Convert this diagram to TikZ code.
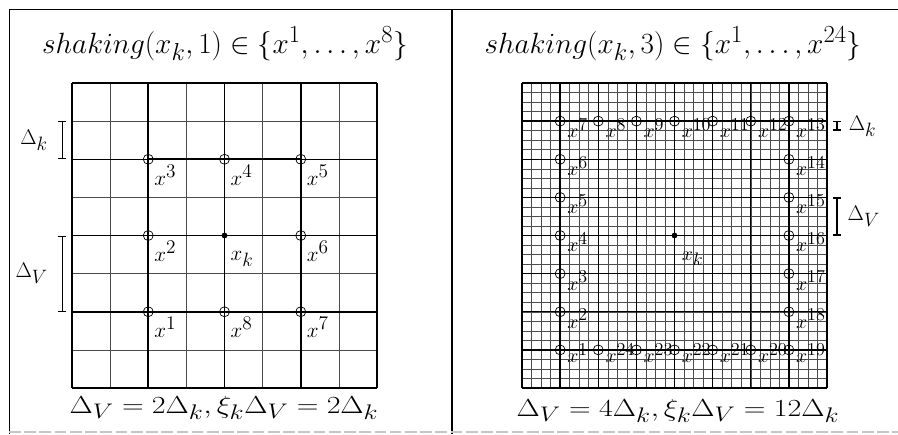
\RequirePackage{fix-cm}
\documentclass[tikz,border=0pt]{standalone}
\usepackage{amssymb}
\usepackage{amsmath}
\usepackage{tikz}
\usetikzlibrary{positioning,arrows.meta}
\DeclareMathSizes{17}{17}{15.5}{12}
\DeclareMathSizes{18}{18}{16.5}{12}
\DeclareMathSizes{21}{21}{18}{13}
\DeclareMathSizes{25}{25}{21}{16}
\newcommand{\widetext}[1]{\scalebox{1.22}[1]{#1}}
\tikzset{
    point/.style={circle, draw, minimum size=8.5pt, inner sep=0pt, line width=0.6pt},
    center point/.style={circle, fill, minimum size=5pt, inner sep=0pt},
    point label/.style={anchor=base west, inner sep=0pt, font=\fontsize{18}{20}\selectfont},
    small label/.style={anchor=base west, inner sep=0pt, font=\fontsize{17}{19}\selectfont},
    delta label/.style={inner sep=0pt, font=\fontsize{18}{20}\selectfont},
    title/.style={anchor=base, inner sep=0pt, font=\fontsize{25}{30}\selectfont},
    formula/.style={anchor=base, inner sep=0pt, font=\fontsize{21}{25}\selectfont},
    thin grid/.style={line width=0.5pt, black!70},
    thick grid/.style={line width=1.3pt},
    square/.style={line width=1.9pt},
    bracket/.style={line width=1pt, {Bar[width=7pt]}-{Bar[width=7pt]}}
}

\begin{document}
\begin{tikzpicture}[x=0.03cm, y=-0.03cm]
    \useasboundingbox (0,0) rectangle (898,434);

    % Πλαίσιο
    \draw[line width=0.6pt] (9,434) -- (9,9) -- (898,9);
    \draw[line width=1.5pt] (452,9) -- (452,434);
    \draw[gray!45, line width=1pt, dash pattern=on 10pt off 3pt] (9,432) -- (898,432);

    % Τίτλοι
    \node[title] (t1) at (225,53) {$shaking(x_k,1)\in\{x^1,\ldots,x^8\}$};
    \node[title] (t2) at (673,53) {$shaking(x_k,3)\in\{x^1,\ldots,x^{24}\}$};

    % Αριστερό πλέγμα
    \begin{scope}[shift={(72,83)}, x=1.14375cm, y=-1.14375cm]
        \foreach \i in {0,...,8} {
            \draw[thin grid] (\i,0) -- (\i,8);
            \draw[thin grid] (0,\i) -- (8,\i);
        }
        \foreach \i in {0,2,...,8} {
            \draw[thick grid] (\i,0) -- (\i,8);
            \draw[thick grid] (0,\i) -- (8,\i);
        }
        \foreach \n/\cx/\cy in {1/2/6, 2/2/4, 3/2/2, 4/4/2, 5/6/2, 6/6/4, 7/6/6, 8/4/6} {
            \node[point] (a\n) at (\cx,\cy) {};
            \node[point label] (la\n) at ([xshift=5pt, yshift=-22pt]a\n.center) {$x^{\n}$};
        }
        \draw[square] (a1.center) -- (a3.center) -- (a5.center) -- (a7.center) -- cycle;
        \node[center point] (ak) at (4,4) {};
        \node[point label] (lak) at ([xshift=5pt, yshift=-21pt]ak.center) {$x_k$};

        % Δ_k και Δ_V
        \coordinate (dk1) at (-0.26,1);
        \coordinate (dk2) at (-0.26,2);
        \coordinate (dkm) at (-0.26,1.5);
        \draw[bracket] (dk1) -- (dk2);
        \node[delta label, left=12pt of dkm] (ldk) {$\Delta_k$};
        \coordinate (dv1) at (-0.26,4);
        \coordinate (dv2) at (-0.26,6);
        \coordinate (dvm) at (-0.26,5);
        \draw[bracket] (dv1) -- (dv2);
        \node[delta label, left=12pt of dvm] (ldv) {$\Delta_V$};
    \end{scope}

    % Δεξί πλέγμα
    \begin{scope}[shift={(522,83)}, x=1.14375cm, y=-1.14375cm]
        \foreach \i in {0,0.25,...,8} {
            \draw[thin grid, line width=0.45pt] (\i,0) -- (\i,8);
            \draw[thin grid, line width=0.45pt] (0,\i) -- (8,\i);
        }
        \foreach \i in {0,...,8} {
            \draw[thick grid, line width=1.1pt] (\i,0) -- (\i,8);
            \draw[thick grid, line width=1.1pt] (0,\i) -- (8,\i);
        }
        \foreach \n/\cx/\cy in {2/1/6, 3/1/5, 4/1/4, 5/1/3, 6/1/2, 7/1/1, 8/2/1, 9/3/1, 10/4/1,
                                11/5/1, 12/6/1, 13/7/1, 14/7/2, 15/7/3, 16/7/4, 17/7/5, 18/7/6} {
            \node[point] (b\n) at (\cx,\cy) {};
            \node[small label] (lb\n) at ([xshift=6pt, yshift=-14pt]b\n.center) {$x^{\n}$};
        }
        \foreach \n/\cx/\cy in {1/1/7, 19/7/7, 20/6/7, 21/5/7, 22/4/7, 23/3/7, 24/2/7} {
            \node[point] (b\n) at (\cx,\cy) {};
            \node[small label] (lb\n) at ([xshift=6pt, yshift=-11pt]b\n.center) {$x^{\n}$};
        }
        \draw[square] (b1.center) -- (b7.center) -- (b13.center) -- (b19.center) -- cycle;
        \node[center point] (bk) at (4,4) {};
        \node[small label] (lbk) at ([xshift=6pt, yshift=-21pt]bk.center) {$x_k$};

        % Δ_k και Δ_V
        \coordinate (ek1) at (8.26,1);
        \coordinate (ek2) at (8.26,1.25);
        \coordinate (ekm) at (8.26,1.125);
        \draw[bracket] (ek1) -- (ek2);
        \node[delta label, right=10pt of ekm] (lek) {$\Delta_k$};
        \coordinate (ev1) at (8.26,3);
        \coordinate (ev2) at (8.26,4);
        \coordinate (evm) at (8.26,3.5);
        \draw[bracket] (ev1) -- (ev2);
        \node[delta label, right=9pt of evm] (lev) {$\Delta_V$};
    \end{scope}

    % Σχέσεις
    \node[formula] (f1) at (224,413) {\widetext{$\Delta_V=2\Delta_k,\xi_k\Delta_V=2\Delta_k$}};
    \node[formula] (f2) at (678,416) {\widetext{$\Delta_V=4\Delta_k,\xi_k\Delta_V=12\Delta_k$}};
\end{tikzpicture}
\end{document}
